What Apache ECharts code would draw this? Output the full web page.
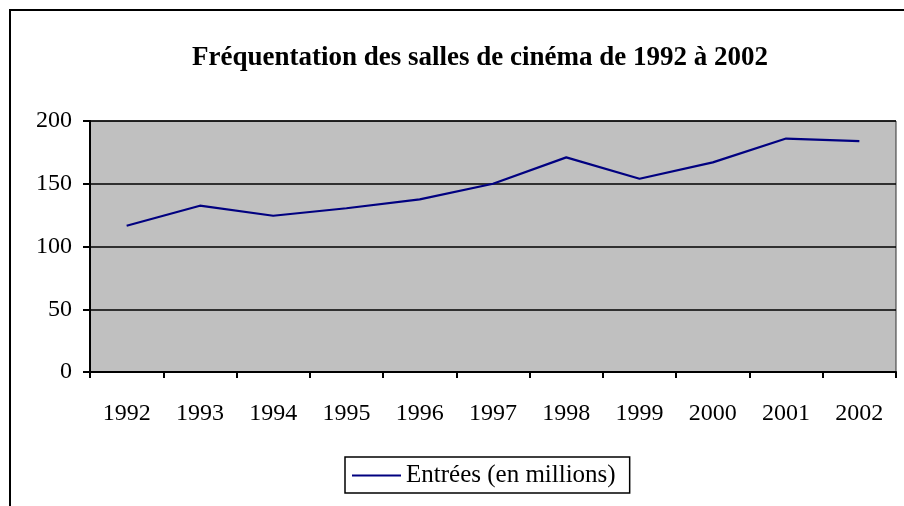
<!DOCTYPE html>
<html>
<head>
<meta charset="utf-8">
<script src="https://cdn.jsdelivr.net/npm/echarts@6/dist/echarts.min.js"></script>
<style>
  html, body { margin: 0; padding: 0; background: #fff; }
  #chart { width: 904px; height: 506px; }
</style>
</head>
<body>
<div id="chart"></div>
<script>
const years = ['1992', '1993', '1994', '1995', '1996', '1997', '1998', '1999', '2000', '2001', '2002']
const entrees = [116.5, 132.5, 124.5, 130.5, 137.5, 150, 171, 154, 167, 186, 184]
const serif = 'Liberation Serif'

let chart = echarts.init(document.getElementById('chart'))
chart.setOption({
  animation: false,
  backgroundColor: '#fff',
  textStyle: { fontFamily: serif },
  graphic: [
    {
      // cadre du graphique
      type: 'rect',
      shape: { x: 10, y: 10, width: 920, height: 520 },
      style: { fill: 'none', stroke: '#000', lineWidth: 2 }
    }
  ],
  title: {
    text: 'Fréquentation des salles de cinéma de 1992 à 2002',
    left: 475,
    textAlign: 'center',
    top: 40,
    textStyle: { fontFamily: serif, fontSize: 27, fontWeight: 'bold', color: '#000' }
  },
  legend: {
    left: 345,
    top: 457,
    padding: [6, 14, 5, 7],
    borderColor: '#000',
    borderWidth: 1.5,
    icon: 'rect',
    itemWidth: 49,
    itemHeight: 2,
    itemGap: 4,
    textStyle: { fontFamily: serif, fontSize: 25, color: '#000', padding: [4, 0, 0, 0] },
    data: ['Entrées (en millions)']
  },
  grid: {
    left: 90,
    right: 8,
    top: 121,
    bottom: 134,
    show: true,
    backgroundColor: '#c0c0c0',
    borderColor: '#333',
    borderWidth: 1
  },
  xAxis: {
    type: 'category',
    data: years,
    boundaryGap: true,
    axisLine: { lineStyle: { color: '#000', width: 2 } },
    axisTick: { show: true, length: 6, lineStyle: { color: '#000', width: 2 } },
    axisLabel: { fontFamily: serif, fontSize: 24, color: '#000', margin: 30 }
  },
  yAxis: {
    type: 'value',
    min: 0,
    max: 200,
    interval: 50,
    axisLine: { show: true, lineStyle: { color: '#000', width: 2 } },
    axisTick: { show: true, length: 7, lineStyle: { color: '#000', width: 2 } },
    axisLabel: { fontFamily: serif, fontSize: 24, color: '#000', margin: 18 },
    splitLine: { lineStyle: { color: '#000', width: 1.5 } }
  },
  series: [
    {
      name: 'Entrées (en millions)',
      type: 'line',
      data: entrees,
      showSymbol: false,
      symbol: 'none',
      color: '#000080',
      lineStyle: { color: '#000080', width: 2.2 }
    }
  ]
})
</script>
</body>
</html>
